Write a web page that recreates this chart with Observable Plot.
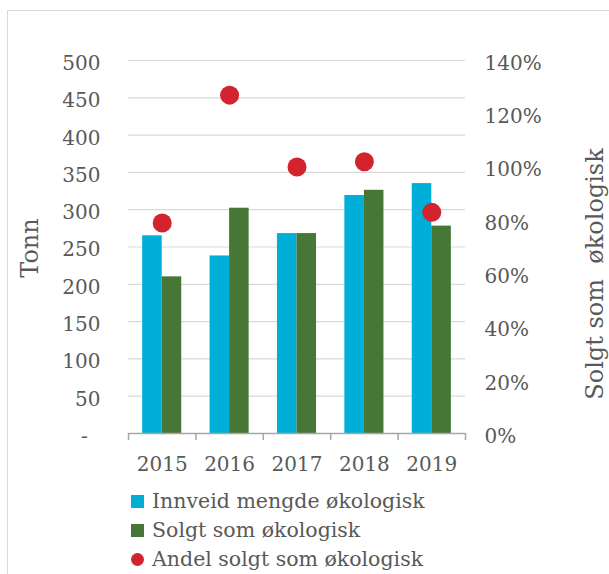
<!DOCTYPE html>
<html>
<head>
<meta charset="utf-8">
<script src="https://cdn.jsdelivr.net/npm/d3@7"></script>
<script src="https://cdn.jsdelivr.net/npm/@observablehq/plot@0.6"></script>
<style>
  html, body { margin: 0; padding: 0; background: #fff; }
  body { width: 609px; height: 574px; position: relative; overflow: hidden; }
  #frame { position: absolute; left: 7px; top: 10px; width: 800px; height: 800px; border: 1.5px solid #d9d9d9; box-sizing: border-box; }
  #chart { position: absolute; left: 0; top: 0; }
  #legend { position: absolute; left: 131px; top: 487px; font-family: "DejaVu Serif", serif; font-size: 20.5px; color: #595959; line-height: 29px; white-space: nowrap; }
  #legend .row { display: flex; align-items: center; height: 29px; }
  #legend .sw { display: inline-block; width: 13px; height: 13px; margin-right: 8px; }
  #legend .dotsw { border-radius: 50%; width: 13px; height: 13px; }
</style>
</head>
<body>
<div id="frame"></div>
<div id="chart"></div>
<div id="legend"></div>
<script>
const years = [2015, 2016, 2017, 2018, 2019];
const innveid = [265, 238, 268, 319, 335];
const solgt = [210, 302, 268, 326, 278];
const andel = [0.79, 1.27, 1.00, 1.02, 0.83];
const leftTicks = [0, 50, 100, 150, 200, 250, 300, 350, 400, 450, 500];
const rightTicks = [0, 0.2, 0.4, 0.6, 0.8, 1.0, 1.2, 1.4];
const seriesNames = ["Innveid mengde økologisk", "Solgt som økologisk", "Andel solgt som økologisk"];
const leftTitle = "Tonn";
const rightTitle = "Solgt som\u00a0 økologisk";
const colors = ["#00AFD7", "#477737", "#D3232F"];

const rows = years.map((y, i) => ({year: y, innveid: innveid[i], solgt: solgt[i], andel: andel[i]}));
const boundaries = [years[0] - 0.5, ...years.map(y => y + 0.5)];
const yMax = 500, rMax = 1.4;
const toLeft = v => v * yMax / rMax;
const barW = 0.29;

const H = 482;
const plot = Plot.plot({
  width: 609,
  height: H,
  marginLeft: 128,
  marginRight: 144,
  marginTop: 60,
  marginBottom: H - 433,
  x: {domain: [boundaries[0], boundaries[boundaries.length - 1]]},
  y: {domain: [0, yMax]},
  style: {fontFamily: "DejaVu Serif, serif", fontSize: "20px", color: "#595959", background: "transparent", overflow: "visible"},
  marks: [
    Plot.gridY(leftTicks.slice(1), {stroke: "#d9d9d9", strokeOpacity: 1, strokeWidth: 1.2}),
    Plot.rectY(rows, {x1: d => d.year - barW, x2: d => d.year, y: "innveid", fill: colors[0]}),
    Plot.rectY(rows, {x1: d => d.year, x2: d => d.year + barW, y: "solgt", fill: colors[1]}),
    Plot.ruleY([0], {stroke: "#a6a6a6", strokeWidth: 1.5}),
    Plot.axisX(boundaries, {tickSize: 7, tickFormat: () => "", stroke: "#a6a6a6", strokeWidth: 1.5, label: null}),
    Plot.axisX(years, {tickSize: 0, tickPadding: 23, tickFormat: d => String(d), label: null}),
    Plot.axisY(leftTicks, {tickSize: 0, tickPadding: 28, dy: 3, tickFormat: d => d === 0 ? "-\u00a0\u00a0" : String(d), label: null}),
    Plot.axisY(rightTicks.map(toLeft), {anchor: "right", tickSize: 0, tickPadding: 19, dy: 3, tickFormat: d => Math.round(d * rMax / yMax * 100) + "%", label: null}),
    Plot.dot(rows, {x: "year", y: d => toLeft(d.andel), r: 9.5, fill: colors[2], stroke: "none"}),
    Plot.text([leftTitle], {frameAnchor: "left", textAnchor: "middle", dx: -98, dy: 1, rotate: -90, fontSize: 24, fill: "#595959"}),
    Plot.text([rightTitle], {frameAnchor: "right", textAnchor: "middle", dx: 130, dy: 27, rotate: -90, fontSize: 24, fill: "#595959"})
  ]
});
document.getElementById("chart").appendChild(plot);

const legend = document.getElementById("legend");
seriesNames.forEach((name, i) => {
  const row = document.createElement("div");
  row.className = "row";
  const sw = document.createElement("span");
  sw.className = "sw" + (i === 2 ? " dotsw" : "");
  sw.style.background = colors[i];
  const t = document.createElement("span");
  t.textContent = name;
  row.appendChild(sw);
  row.appendChild(t);
  legend.appendChild(row);
});
</script>
</body>
</html>
